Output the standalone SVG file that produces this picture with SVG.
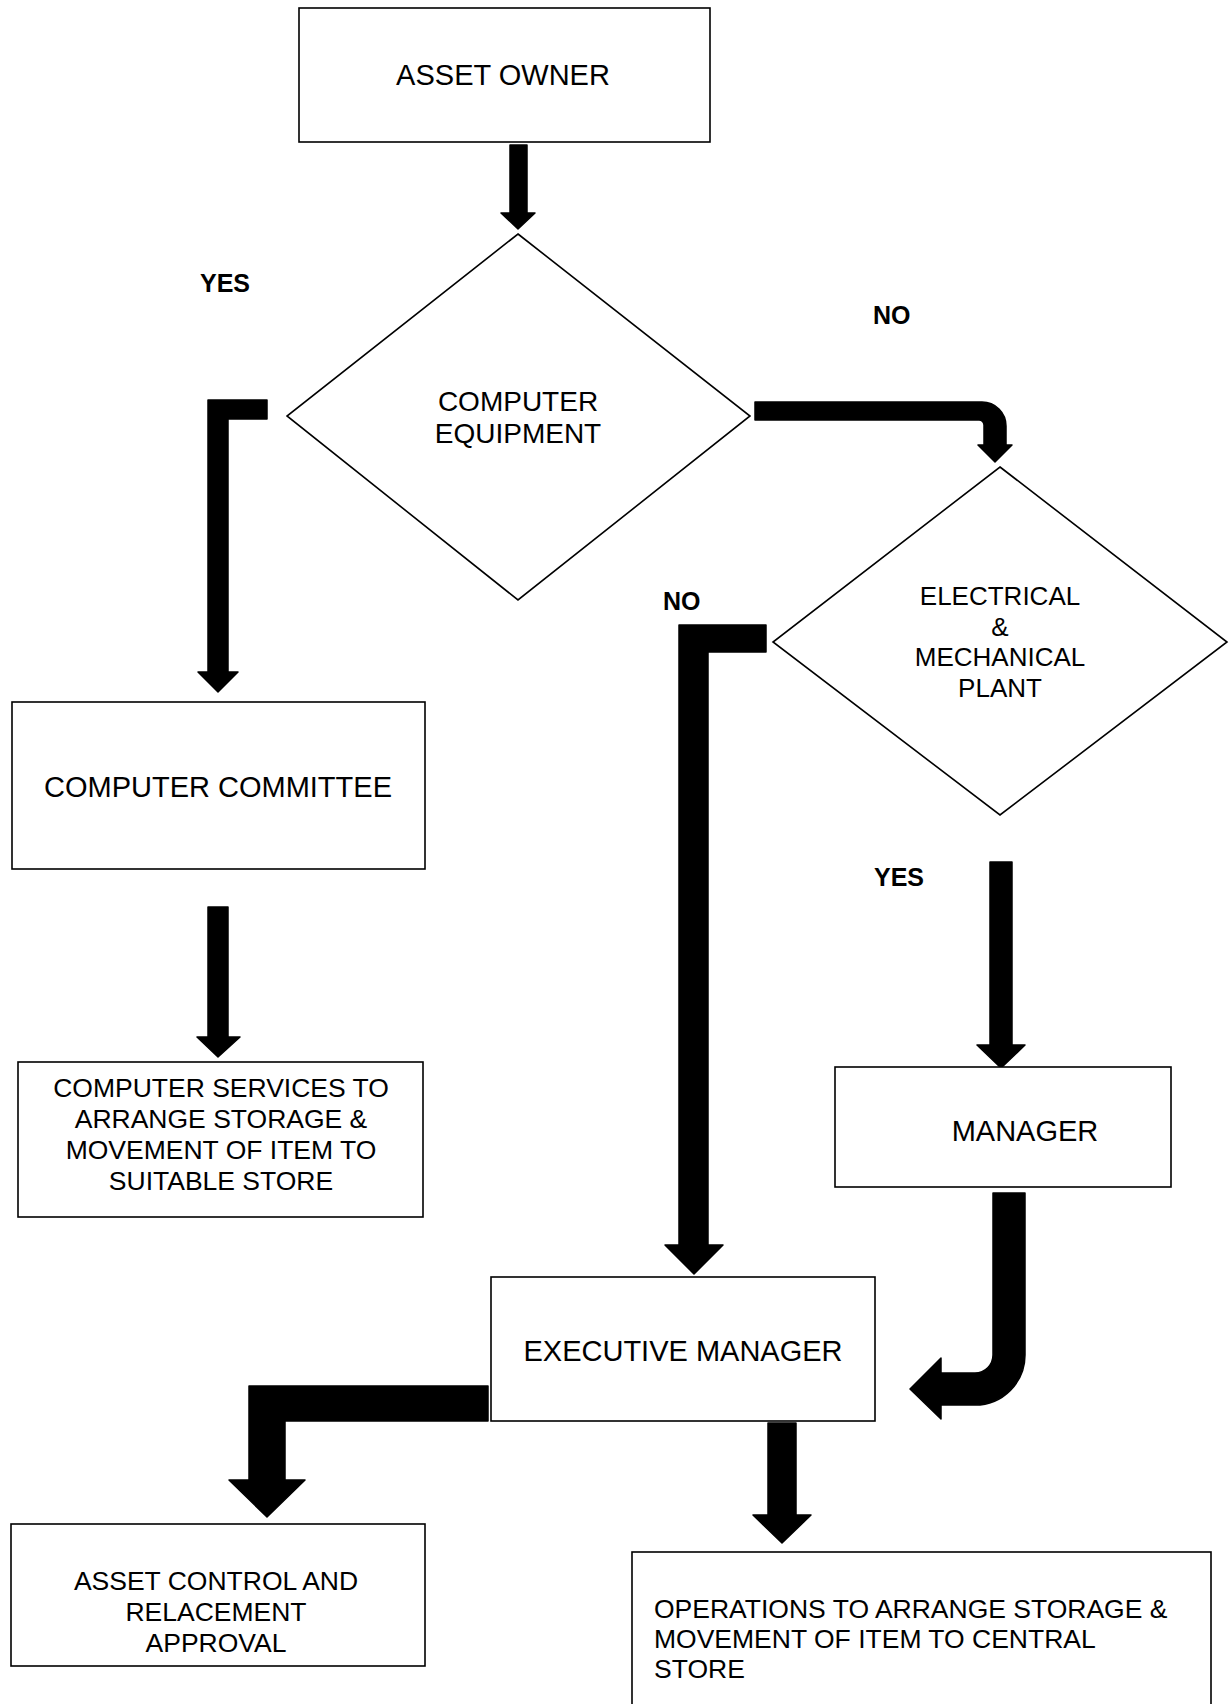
<svg xmlns="http://www.w3.org/2000/svg" width="1229" height="1704" viewBox="0 0 1229 1704">
<style>
.box{fill:#fff;stroke:#000;stroke-width:1.6}
.t{font-family:"Liberation Sans",Arial,sans-serif;fill:#000;text-anchor:middle}
.tl{font-family:"Liberation Sans",Arial,sans-serif;fill:#000;text-anchor:start}
.lbl{font-family:"Liberation Sans",Arial,sans-serif;font-weight:bold;font-size:25px;fill:#000}
.arr{fill:#000;stroke:#000;stroke-width:1.5;stroke-linejoin:round}
</style>
<rect width="1229" height="1704" fill="#fff"/>
<g id="connectors">
<path class="arr" d="M510,145 L527,145 L527,213 L535,213 L518,229 L501,213 L510,213 Z"/>
<path class="arr" d="M267,400 L208,400 L208,672 L198,672 L218,692 L238,672 L228,672 L228,419 L267,419 Z"/>
<path class="arr" d="M755,402 L982,402 A24,24 0 0 1 1006,426 L1006,445 L1012,445 L995,462 L978,445 L984,445 L984,425 A5,5 0 0 0 979,420 L755,420 Z"/>
<path class="arr" d="M766,625 L679,625 L679,1245 L665,1245 L694,1274 L723,1245 L708,1245 L708,652 L766,652 Z"/>
<path class="arr" d="M208,907 L228,907 L228,1037 L240,1037 L218,1057 L197,1037 L208,1037 Z"/>
<path class="arr" d="M990,862 L1012,862 L1012,1045 L1025,1045 L1001,1068 L977,1045 L990,1045 Z"/>
<path class="arr" d="M993,1193 L1025,1193 L1025,1355 A50,50 0 0 1 975,1405 L941,1405 L941,1419 L910,1389 L941,1358 L941,1373 L975,1373 A18,18 0 0 0 993,1355 Z"/>
<path class="arr" d="M488,1386 L249,1386 L249,1480 L229,1480 L267,1517 L305,1480 L285,1480 L285,1421 L488,1421 Z"/>
<path class="arr" d="M768,1423 L796,1423 L796,1515 L811,1515 L782,1543 L753,1515 L768,1515 Z"/>
</g>
<g id="labels">
<text class="lbl" x="200" y="292">YES</text>
<text class="lbl" x="873" y="324">NO</text>
<text class="lbl" x="663" y="610">NO</text>
<text class="lbl" x="874" y="886">YES</text>
</g>
<g id="asset-owner">
<rect class="box" x="299" y="8" width="411" height="134"/>
<text class="t" x="503" y="85" font-size="29">ASSET OWNER</text>
</g>
<g id="computer-equipment">
<polygon class="box" points="518,234 750,416 518,600 287,416"/>
<text class="t" x="518" y="411" font-size="28">COMPUTER</text>
<text class="t" x="518" y="443" font-size="28">EQUIPMENT</text>
</g>
<g id="electrical-mechanical">
<polygon class="box" points="1000,467 1227,642 1000,815 773,642"/>
<text class="t" x="1000" y="605" font-size="26">ELECTRICAL</text>
<text class="t" x="1000" y="636" font-size="26">&amp;</text>
<text class="t" x="1000" y="666" font-size="26">MECHANICAL</text>
<text class="t" x="1000" y="697" font-size="26">PLANT</text>
</g>
<g id="computer-committee">
<rect class="box" x="12" y="702" width="413" height="167"/>
<text class="t" x="218" y="797" font-size="29">COMPUTER COMMITTEE</text>
</g>
<g id="computer-services">
<rect class="box" x="18" y="1062" width="405" height="155"/>
<text class="t" x="221" y="1097" font-size="26.5">COMPUTER SERVICES TO</text>
<text class="t" x="221" y="1128" font-size="26.5">ARRANGE STORAGE &amp;</text>
<text class="t" x="221" y="1159" font-size="26.5">MOVEMENT OF ITEM TO</text>
<text class="t" x="221" y="1190" font-size="26.5">SUITABLE STORE</text>
</g>
<g id="manager">
<rect class="box" x="835" y="1067" width="336" height="120"/>
<text class="t" x="1025" y="1141" font-size="29">MANAGER</text>
</g>
<g id="executive-manager">
<rect class="box" x="491" y="1277" width="384" height="144"/>
<text class="t" x="683" y="1361" font-size="29">EXECUTIVE MANAGER</text>
</g>
<g id="asset-control">
<rect class="box" x="11" y="1524" width="414" height="142"/>
<text class="t" x="216" y="1590" font-size="26.5">ASSET CONTROL AND</text>
<text class="t" x="216" y="1621" font-size="26.5">RELACEMENT</text>
<text class="t" x="216" y="1652" font-size="26.5">APPROVAL</text>
</g>
<g id="operations">
<rect class="box" x="632" y="1552" width="579" height="170"/>
<text class="tl" x="654" y="1618" font-size="26.5">OPERATIONS TO ARRANGE STORAGE &amp;</text>
<text class="tl" x="654" y="1648" font-size="26.5">MOVEMENT OF ITEM TO CENTRAL</text>
<text class="tl" x="654" y="1678" font-size="26.5">STORE</text>
</g>
</svg>
